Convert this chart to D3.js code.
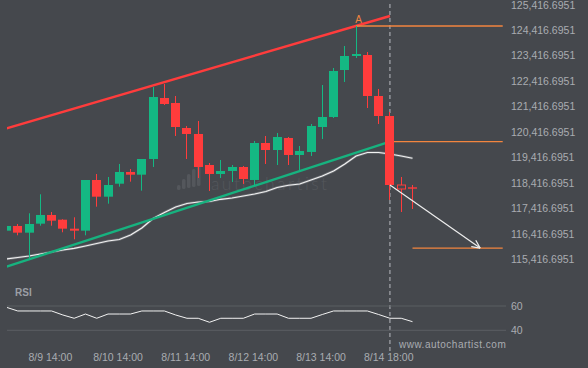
<!DOCTYPE html>
<html><head><meta charset="utf-8">
<script src="https://cdn.jsdelivr.net/npm/d3@7"></script>
<style>html,body{margin:0;padding:0;background:#45484d;}svg{display:block;}</style>
</head><body>
<script>
// ---- data ----
const open  = [116540,116725,116462,116815,117157,116972,116619,116540,118530,117875,118385,118845,118739,119355,121750,121554,120572,120337,119119,118766,118884,119041,118531,119983,119708,120179,119512,119630,120611,121004,122849,123399,123438,121828,121043,118334,118216];
const close = [116725,116462,116803,117157,116933,116619,116540,118530,117875,118334,118845,118739,119355,121789,121514,120611,120337,119041,118766,118884,119041,118570,119983,119708,120219,119512,119669,120651,121004,122810,123399,123477,121828,121043,118334,118177,118177];
const high  = [116745,116803,117223,117969,117274,116990,117066,118530,118766,118648,119159,118962,119355,122182,122300,121828,120651,120847,119198,119316,119119,119080,120062,120258,120376,120219,119865,120729,122260,122928,123791,124577,123556,122103,121200,118648,118334];
const low   = [116520,116359,115417,116736,116736,116477,116202,116359,117482,117600,118268,118464,118110,119041,121475,120258,119355,118609,118099,118609,118452,118374,118295,119159,119119,119119,118923,119473,120140,120965,122378,123320,121357,120729,117745,117274,117392];
const ma    = [115429,115488,115547,115625,115704,115782,115849,115939,116037,116135,116194,116371,116646,117019,117254,117470,117608,117667,117687,117773,117824,117903,117981,118079,118236,118323,118374,118531,118688,118884,119159,119473,119610,119610,119551,119473,119383];
const rsi   = [58.9,55.9,55.9,55.9,55.9,52.6,49.9,53.4,49.9,53.4,53.4,53.4,55.9,55.9,55.9,52.6,49.9,49.9,46.6,49.9,49.9,49.9,53.4,53.4,53.4,49.9,49.9,49.9,53.0,55.9,55.9,55.9,55.9,53.0,49.9,49.9,47.1];
const xTickIdx    = [4,10,16,22,28,34];
const xTickLabels = ["8/9 14:00","8/10 14:00","8/11 14:00","8/12 14:00","8/13 14:00","8/14 18:00"];
const yTicks = [115416.6951,116416.6951,117416.6951,118416.6951,119416.6951,120416.6951,121416.6951,122416.6951,123416.6951,124416.6951,125416.6951];
const rsiTicks = [40,60];
const upperChannel = [[0,120560],[34,124969]];
const lowerChannel = [[0,115127],[34,120034]];
const resistanceLevel = {from:31, to:44, price:124577};
const breakLevel = {from:34, to:44, price:120034};
const targetLevel = {from:36, to:44, price:115856};
const forecastArrow = [[34,118334],[42,115856]];
const signalIdx = 34;
const pointA = {idx:31, price:124577, label:"A"};

// ---- layout ----
const W=588,H=368;
const plotL=7, plotR=506;
const x = d3.scaleLinear().domain([0,36]).range([6.5,412.5]);
const y = d3.scaleLinear().domain([115416.6951,125416.6951]).range([259.3,4.6]);
const yr = d3.scaleLinear().domain([40,60]).range([330.3,306]);

const GREEN="#14b883", RED="#ff3c3c", ORANGE="#f3853f", TXT="#a9acb1";

const svg = d3.select("body").append("svg").attr("width",W).attr("height",H);
svg.append("rect").attr("width",W).attr("height",H).attr("fill","#45484d");
const defs = svg.append("defs");
defs.append("clipPath").attr("id","mainclip").append("rect").attr("x",plotL).attr("y",0).attr("width",plotR-plotL).attr("height",275);
defs.append("clipPath").attr("id","rsiclip").append("rect").attr("x",plotL).attr("y",295).attr("width",plotR-plotL).attr("height",45);

// watermark
const wm = svg.append("g").attr("fill","#54575c");
[[0,5],[1,10],[2,14],[3,18],[4,22]].forEach(([k,h])=>{
  wm.append("rect").attr("x",177+k*5).attr("y",190-h - k*1).attr("width",3.5).attr("height",h).attr("rx",1.5);
});
wm.append("text").attr("x",211).attr("y",190).attr("font-family","Lato, 'Open Sans', sans-serif")
  .attr("font-weight",300).attr("font-size",17.5).attr("letter-spacing",2.4).text("autochartist");

// dashed signal line (behind the marks)
svg.append("line").attr("x1",x(signalIdx)).attr("x2",x(signalIdx)).attr("y1",4).attr("y2",352)
  .attr("stroke","#b9bcc1").attr("stroke-width",1).attr("stroke-dasharray","4,3");

const main = svg.append("g").attr("clip-path","url(#mainclip)");

// MA line
main.append("path").datum(ma).attr("fill","none").attr("stroke","#6a6d72").attr("stroke-width",2.6)
  .attr("d",d3.line().x((d,i)=>x(i)).y(d=>y(d)));
main.append("path").datum(ma).attr("fill","none").attr("stroke","#f2f2f2").attr("stroke-width",1.2)
  .attr("d",d3.line().x((d,i)=>x(i)).y(d=>y(d)));

// channel lines
const lineXY = d3.line().x(d=>x(d[0])).y(d=>y(d[1]));
main.append("path").datum(upperChannel).attr("stroke",RED).attr("stroke-width",2.4).attr("fill","none").attr("d",lineXY);
main.append("path").datum(lowerChannel).attr("stroke","#17b27f").attr("stroke-width",2.4).attr("fill","none").attr("d",lineXY);

// levels
[resistanceLevel,breakLevel,targetLevel].forEach(l=>{
  main.append("line").attr("x1",x(l.from)).attr("x2",x(l.to)).attr("y1",y(l.price)).attr("y2",y(l.price))
    .attr("stroke",ORANGE).attr("stroke-width",1.3);
});

// candles
const bw=9;
const cg = main.append("g");
open.forEach((o,i)=>{
  const c=close[i], up=c>=o, col=up?GREEN:RED;
  const cx=Math.round(x(i)-0.5)+0.5;
  cg.append("line").attr("x1",cx).attr("x2",cx).attr("y1",y(high[i])).attr("y2",y(low[i])).attr("stroke",col).attr("stroke-width",1);
  const top=y(Math.max(o,c)), bot=y(Math.min(o,c));
  if(i===35){
    cg.append("rect").attr("x",cx-bw/2+0.5).attr("y",top).attr("width",bw-1).attr("height",Math.max(bot-top,3))
      .attr("fill","#45484d").attr("stroke",col).attr("stroke-width",1);
  } else if(bot-top<1.5){
    cg.append("line").attr("x1",cx-bw/2).attr("x2",cx+bw/2).attr("y1",top).attr("y2",top).attr("stroke",col).attr("stroke-width",1.4);
  } else {
    cg.append("rect").attr("x",cx-bw/2).attr("y",top).attr("width",bw).attr("height",Math.max(bot-top,2)).attr("fill",col);
  }
});

// point A label
svg.append("text").attr("x",x(pointA.idx)+2.5).attr("y",y(pointA.price)-2.5).attr("text-anchor","middle")
  .attr("font-family","Liberation Sans, Arial, sans-serif").attr("font-size",10).attr("fill",ORANGE).text(pointA.label);

// forecast arrow
const a0=[x(forecastArrow[0][0]),y(forecastArrow[0][1])], a1=[x(forecastArrow[1][0]),y(forecastArrow[1][1])];
main.append("line").attr("x1",a0[0]).attr("y1",a0[1]).attr("x2",a1[0]).attr("y2",a1[1]).attr("stroke","#eeeeee").attr("stroke-width",1.2);
const ang=Math.atan2(a1[1]-a0[1],a1[0]-a0[0]), al=9;
[0.45,-0.45].forEach(d=>{
  main.append("line").attr("x1",a1[0]).attr("y1",a1[1])
    .attr("x2",a1[0]-al*Math.cos(ang+d)).attr("y2",a1[1]-al*Math.sin(ang+d))
    .attr("stroke","#eeeeee").attr("stroke-width",1.2);
});

// y axis labels
const fmt=d3.format(",.4f");
svg.append("g").selectAll("text").data(yTicks).join("text")
  .attr("x",511).attr("y",d=>Math.max(y(d)+3.8,9)).attr("font-family","Liberation Sans, Arial, sans-serif")
  .attr("font-size",10.5).attr("fill",TXT).text(d=>fmt(d));

// RSI panel
svg.append("text").attr("x",15).attr("y",295.5).attr("font-family","Liberation Sans, Arial, sans-serif")
  .attr("font-weight","bold").attr("font-size",10).attr("fill","#9c9fa5").text("RSI");
svg.append("g").selectAll("line").data(rsiTicks).join("line")
  .attr("x1",plotL).attr("x2",plotR).attr("y1",d=>yr(d)).attr("y2",d=>yr(d)).attr("stroke","#5b5e63").attr("stroke-width",1);
svg.append("g").selectAll("text").data(rsiTicks).join("text")
  .attr("x",511).attr("y",d=>yr(d)+3.8).attr("font-family","Liberation Sans, Arial, sans-serif")
  .attr("font-size",10.5).attr("fill",TXT).text(d=>d);
svg.append("path").datum(rsi).attr("clip-path","url(#rsiclip)").attr("fill","none").attr("stroke","#f2f2f2").attr("stroke-width",1)
  .attr("d",d3.line().x((d,i)=>x(i)).y(d=>yr(d)));

// x axis labels
svg.append("g").selectAll("text").data(xTickIdx).join("text")
  .attr("x",d=>x(d)-1.2).attr("y",360.5).attr("text-anchor","middle").attr("font-family","Liberation Sans, Arial, sans-serif")
  .attr("font-size",10.5).attr("fill",TXT).text((d,i)=>xTickLabels[i]);

svg.append("text").attr("x",399).attr("y",347.5).attr("font-family","Liberation Sans, Arial, sans-serif")
  .attr("font-size",10).attr("letter-spacing",0.5).attr("fill",TXT).text("www.autochartist.com");
</script>
</body></html>
